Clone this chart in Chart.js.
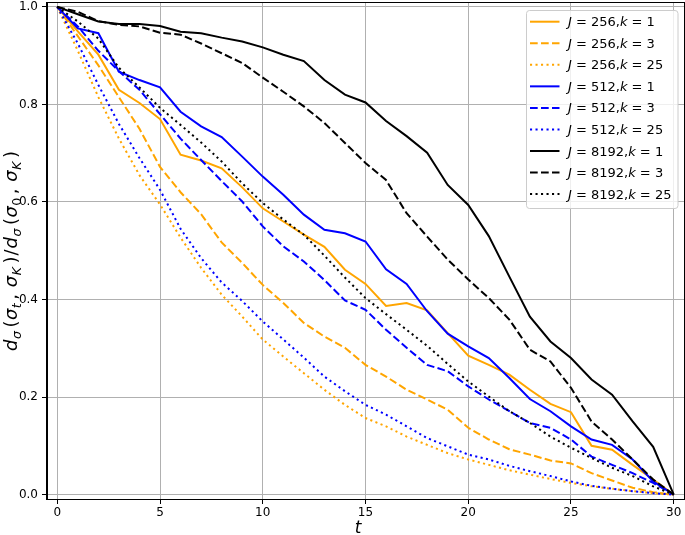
<!DOCTYPE html>
<html lang="en">
<head>
<meta charset="UTF-8">
<title>Razão de distância</title>
<script src="https://cdn.jsdelivr.net/npm/chart.js"></script>
<style>
  html, body { margin: 0; padding: 0; background: #fff; }
</style>
</head>
<body>
<canvas id="grafico" width="685" height="535"></canvas>
<script>
// eixo t
const tempo = [0, 1, 2, 3, 4, 5, 6, 7, 8, 9, 10, 11, 12, 13, 14, 15, 16, 17, 18, 19, 20, 21, 22, 23, 24, 25, 26, 27, 28, 29, 30];
const xTicks = [0, 5, 10, 15, 20, 25, 30];
const yTicks = [0, 0.2, 0.4, 0.6, 0.8, 1.0];

// J = 256
const j256k1 = [1.0, 0.95, 0.902, 0.830, 0.803, 0.770, 0.697, 0.685, 0.669, 0.630, 0.587, 0.560, 0.533, 0.508, 0.461, 0.432, 0.387, 0.393, 0.378, 0.331, 0.285, 0.266, 0.246, 0.215, 0.186, 0.169, 0.100, 0.092, 0.061, 0.031, 0];
const j256k3 = [1.0, 0.94, 0.88, 0.815, 0.75, 0.672, 0.62, 0.575, 0.517, 0.475, 0.430, 0.393, 0.352, 0.324, 0.301, 0.266, 0.242, 0.215, 0.195, 0.174, 0.137, 0.113, 0.093, 0.082, 0.070, 0.064, 0.044, 0.029, 0.014, 0.005, 0];
const j256k25 = [1.0, 0.91, 0.815, 0.73, 0.655, 0.595, 0.527, 0.465, 0.41, 0.365, 0.318, 0.283, 0.249, 0.215, 0.184, 0.157, 0.140, 0.119, 0.102, 0.085, 0.072, 0.061, 0.050, 0.041, 0.032, 0.024, 0.017, 0.012, 0.007, 0.003, 0];
// J = 512
const j512k1 = [1.0, 0.956, 0.946, 0.867, 0.850, 0.835, 0.785, 0.755, 0.733, 0.693, 0.652, 0.615, 0.574, 0.543, 0.536, 0.519, 0.462, 0.432, 0.376, 0.330, 0.304, 0.280, 0.239, 0.196, 0.171, 0.140, 0.113, 0.102, 0.072, 0.027, 0];
const j512k3 = [1.0, 0.96, 0.91, 0.868, 0.83, 0.78, 0.73, 0.686, 0.643, 0.601, 0.550, 0.509, 0.478, 0.440, 0.398, 0.379, 0.338, 0.301, 0.266, 0.253, 0.222, 0.195, 0.171, 0.147, 0.137, 0.113, 0.078, 0.061, 0.044, 0.024, 0];
const j512k25 = [1.0, 0.925, 0.84, 0.76, 0.69, 0.625, 0.545, 0.485, 0.435, 0.397, 0.355, 0.318, 0.281, 0.242, 0.212, 0.184, 0.164, 0.140, 0.116, 0.099, 0.082, 0.072, 0.059, 0.048, 0.038, 0.027, 0.018, 0.012, 0.007, 0.003, 0];
// J = 8192
const j8192k1 = [1.0, 0.985, 0.970, 0.965, 0.965, 0.961, 0.949, 0.946, 0.937, 0.929, 0.917, 0.902, 0.889, 0.850, 0.820, 0.804, 0.766, 0.735, 0.701, 0.635, 0.594, 0.530, 0.447, 0.365, 0.314, 0.280, 0.236, 0.205, 0.150, 0.098, 0];
const j8192k3 = [1.0, 0.99, 0.971, 0.963, 0.960, 0.947, 0.943, 0.925, 0.905, 0.885, 0.855, 0.826, 0.796, 0.762, 0.721, 0.680, 0.645, 0.577, 0.529, 0.482, 0.441, 0.403, 0.359, 0.297, 0.273, 0.219, 0.150, 0.113, 0.072, 0.031, 0];
const j8192k25 = [1.0, 0.97, 0.935, 0.875, 0.835, 0.793, 0.758, 0.722, 0.683, 0.638, 0.598, 0.564, 0.533, 0.490, 0.445, 0.403, 0.370, 0.338, 0.305, 0.268, 0.232, 0.201, 0.171, 0.147, 0.119, 0.096, 0.075, 0.055, 0.038, 0.017, 0];

const series = [j256k1, j256k3, j256k25, j512k1, j512k3, j512k25, j8192k1, j8192k3, j8192k25];
const serieJ = ['256', '256', '256', '512', '512', '512', '8192', '8192', '8192'];
const serieK = ['1', '3', '25', '1', '3', '25', '1', '3', '25'];

// estilos
const cores = ['#ffa500', '#ffa500', '#ffa500', '#0000ff', '#0000ff', '#0000ff', '#000000', '#000000', '#000000'];
const tracoCheio = [];
const tracoTracejado = [7.7, 3.3];
const tracoPontilhado = [2.1, 3.4];
const tracos = [tracoCheio, tracoTracejado, tracoPontilhado, tracoCheio, tracoTracejado, tracoPontilhado, tracoCheio, tracoTracejado, tracoPontilhado];

const fonte = '"DejaVu Sans", sans-serif';

// texto com partes em itálico e subscritos (estilo mathtext)
function medirRico(ctx, partes, tam) {
  let w = 0;
  for (const p of partes) {
    const t = p.sub ? tam * 0.7 : tam;
    ctx.font = (p.it ? 'italic ' : '') + t + 'px ' + fonte;
    w += ctx.measureText(p.t).width + (p.gap || 0);
  }
  return w;
}

function desenharRico(ctx, partes, x, y, tam) {
  ctx.textBaseline = 'alphabetic';
  ctx.textAlign = 'left';
  for (const p of partes) {
    const t = p.sub ? tam * 0.7 : tam;
    ctx.font = (p.it ? 'italic ' : '') + t + 'px ' + fonte;
    ctx.fillText(p.t, x, y + (p.sub ? tam * 0.22 : 0));
    x += ctx.measureText(p.t).width + (p.gap || 0);
  }
}

const rotuloY = [
  { t: 'd', it: true, gap: 0.5 }, { t: 'σ', it: true, sub: true, gap: 3.5 }, { t: '(', gap: 0.5 },
  { t: 'σ', it: true, gap: 0.5 }, { t: 't', it: true, sub: true, gap: 3.5 }, { t: ', ', gap: 1 },
  { t: 'σ', it: true, gap: 0.5 }, { t: 'K', it: true, sub: true, gap: 3.5 }, { t: ')', gap: 1 }, { t: '/', gap: 1 },
  { t: 'd', it: true, gap: 0.5 }, { t: 'σ', it: true, sub: true, gap: 3.5 }, { t: '(', gap: 0.5 },
  { t: 'σ', it: true, gap: 0.5 }, { t: '0', sub: true, gap: 3.5 }, { t: ', ', gap: 1 },
  { t: 'σ', it: true, gap: 0.5 }, { t: 'K', it: true, sub: true, gap: 3.5 }, { t: ')' }
];
const rotuloX = 't';

const extras = {
  id: 'extras',
  afterDatasetsDraw(chart) {
    const ctx = chart.ctx;
    const a = chart.chartArea;
    ctx.save();
    // moldura
    ctx.strokeStyle = '#000';
    ctx.lineWidth = 1;
    ctx.strokeRect(Math.round(a.left) - 0.5, Math.round(a.top) - 0.5, Math.round(a.right - a.left) + 1, Math.round(a.bottom - a.top) + 1);

    // legenda
    const lx = 526, ly = 10, lw = 151.5, lh = 198;
    ctx.fillStyle = 'rgba(255,255,255,0.8)';
    ctx.strokeStyle = '#cccccc';
    ctx.beginPath();
    ctx.roundRect(lx + 0.5, ly + 0.5, lw, lh, 3);
    ctx.fill();
    ctx.stroke();
    for (let i = 0; i < series.length; i++) {
      const yy = 21.7 + i * 21.55;
      ctx.strokeStyle = cores[i];
      ctx.lineWidth = 2;
      ctx.setLineDash(tracos[i]);
      ctx.beginPath();
      ctx.moveTo(530, yy);
      ctx.lineTo(559.5, yy);
      ctx.stroke();
      ctx.setLineDash([]);
      ctx.fillStyle = '#000';
      desenharRico(ctx, [
        { t: 'J', it: true }, { t: ' = ' + serieJ[i] + ',' },
        { t: 'k', it: true }, { t: ' = ' + serieK[i] }
      ], 568, yy + 4.5, 13);
    }

    // rótulo do eixo y
    ctx.fillStyle = '#000';
    ctx.translate(17, (a.top + a.bottom) / 2);
    ctx.rotate(-Math.PI / 2);
    const w = medirRico(ctx, rotuloY, 18);
    desenharRico(ctx, rotuloY, -w / 2, 0, 18);
    ctx.restore();

    // rótulo do eixo x
    ctx.save();
    ctx.fillStyle = '#000';
    ctx.font = 'italic 17px ' + fonte;
    ctx.textAlign = 'center';
    ctx.textBaseline = 'alphabetic';
    ctx.fillText(rotuloX, 358, 533);
    ctx.restore();
  }
};

const datasets = series.map((s, i) => ({
  label: 'J=' + serieJ[i] + ',k=' + serieK[i],
  data: s.map((v, n) => ({ x: tempo[n], y: v })),
  borderColor: cores[i],
  borderDash: tracos[i],
  borderWidth: 2,
  pointRadius: 0,
  tension: 0,
  fill: false,
  order: series.length - i
}));

const grade = { color: '#b0b0b0', lineWidth: 1, tickColor: '#000', tickLength: 5 };
const fonteTicks = { family: fonte, size: 12 };

new Chart(document.getElementById('grafico'), {
  type: 'line',
  data: { datasets },
  options: {
    responsive: false,
    devicePixelRatio: 1,
    animation: false,
    layout: { padding: { top: 3, right: 1, left: 0, bottom: 0 } },
    plugins: { legend: { display: false }, tooltip: { enabled: false } },
    scales: {
      x: {
        type: 'linear',
        min: -0.5,
        max: 30.5,
        afterBuildTicks: s => { s.ticks = xTicks.map(v => ({ value: v })); },
        afterFit: s => { s.height = 36; s.paddingLeft = 0; s.paddingRight = 0; },
        grid: grade,
        border: { color: '#000', width: 1 },
        ticks: { font: fonteTicks, color: '#000', padding: 2, maxRotation: 0, callback: v => v }
      },
      y: {
        type: 'linear',
        min: -0.009,
        max: 1.008,
        afterBuildTicks: s => { s.ticks = yTicks.map(v => ({ value: v })); },
        afterFit: s => { s.width = 47; s.paddingTop = 0; s.paddingBottom = 0; },
        grid: grade,
        border: { color: '#000', width: 1 },
        ticks: { font: fonteTicks, color: '#000', padding: 4, callback: v => v.toFixed(1) }
      }
    }
  },
  plugins: [extras]
});
</script>
</body>
</html>
